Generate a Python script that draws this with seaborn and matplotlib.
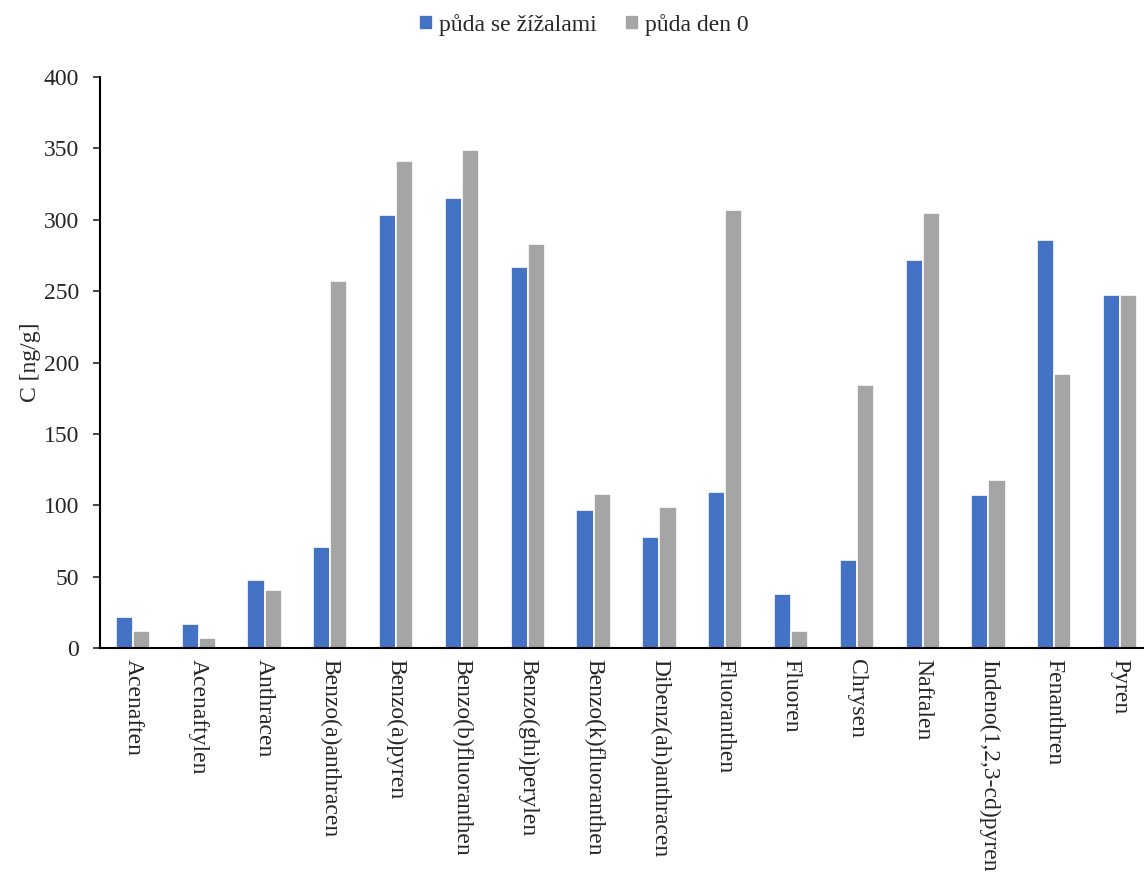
import pandas as pd
import numpy as np
import matplotlib
matplotlib.use("Agg")
import matplotlib.pyplot as plt
import seaborn as sns

compounds = ["Acenaften", "Acenaftylen", "Anthracen", "Benzo(a)anthracen",
             "Benzo(a)pyren", "Benzo(b)fluoranthen", "Benzo(ghi)perylen",
             "Benzo(k)fluoranthen", "Dibenz(ah)anthracen", "Fluoranthen",
             "Fluoren", "Chrysen", "Naftalen", "Indeno(1,2,3-cd)pyren",
             "Fenanthren", "Pyren"]
earthworms = [22, 17, 48, 71, 303, 315, 267, 97, 78, 109, 38, 62, 272, 107, 286, 247]
day0 = [12, 7, 41, 257, 341, 349, 283, 108, 99, 307, 12, 184, 305, 118, 192, 247]
series = ["půda se žížalami", "půda den 0"]
colors = ["#4472C4", "#A5A5A5"]

df = pd.DataFrame({
    "compound": compounds * 2,
    "value": earthworms + day0,
    "series": [series[0]] * len(compounds) + [series[1]] * len(compounds),
})

sns.set_style("white")
plt.rcParams['font.family'] = ['Liberation Serif', 'DejaVu Serif']

fig = plt.figure(figsize=(11.44, 8.8), dpi=100)
ax = fig.add_axes([0.0874, 0.2636, 0.9205, 0.6489])

sns.barplot(data=df, x="compound", y="value", hue="series", palette=colors,
            width=0.52, edgecolor="white", linewidth=1.2, saturation=1, ax=ax)

ax.set_ylim(0, 400)
ax.set_yticks(np.arange(0, 401, 50))
ax.set_xlim(-0.5, len(compounds) - 0.5)
ax.set_xlabel("")
ax.set_ylabel("C [ng/g]", fontsize=17, labelpad=2)
ax.tick_params(axis="y", labelsize=17, length=5, width=1.2, direction="out", left=True, pad=10)
ax.tick_params(axis="x", labelsize=17, length=0, pad=8)
plt.setp(ax.get_xticklabels(), rotation=-90, ha="center", va="top")

for s in ["top", "right"]:
    ax.spines[s].set_visible(False)
for s in ["left", "bottom"]:
    ax.spines[s].set_color("black")
    ax.spines[s].set_linewidth(1.5)

ax.legend(loc="upper center", bbox_to_anchor=(0.51, 1.008), bbox_transform=fig.transFigure,
          ncol=2, frameon=False, fontsize=17, handlelength=0.6, handleheight=0.6,
          handletextpad=0.25, columnspacing=1.2)

fig.savefig("out.png", dpi=100, facecolor="white")
